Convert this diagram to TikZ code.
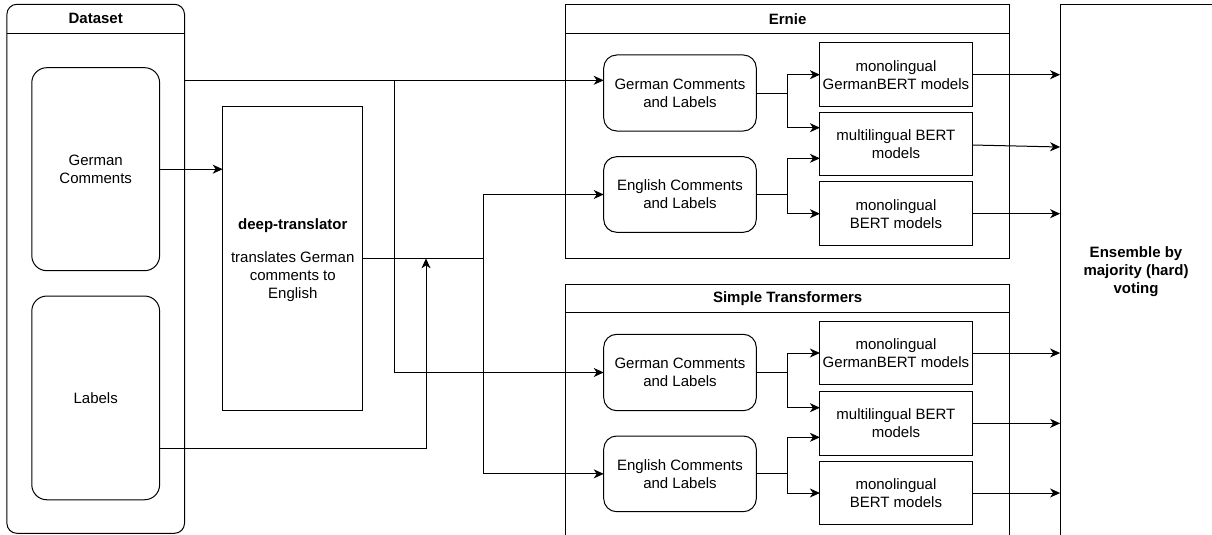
\documentclass[tikz,border=0pt]{standalone}
\usepackage{fontspec}
\setmainfont{Liberation Sans}
\usetikzlibrary{arrows.meta,calc}
\tikzset{
  every node/.style={inner sep=0pt,outer sep=0pt,font=\fontsize{15}{18}\selectfont},
  box/.style={draw,line width=1pt,align=center},
  rbox/.style={box,rounded corners=13pt},
  conn/.style={line width=1pt},
  arr/.style={line width=1pt,-{Stealth[length=10pt,width=9pt,inset=3pt]}},
  titletext/.style={font=\fontsize{15}{18}\selectfont\bfseries,align=center},
}
\begin{document}
\begin{tikzpicture}[x=1pt,y=-1pt]
\useasboundingbox (0,0) rectangle (1212,535);
\clip (0,0) rectangle (1212,535);

% Dataset container
\node[box,rounded corners=10pt,minimum width=177.6pt,minimum height=529pt] (dataset) at (95.7,268.8) {};
\draw[conn] (dataset.west |- 0,33.3) -- (dataset.east |- 0,33.3);
\node[titletext] (datasettitle) at (95.7,18.8) {Dataset};
\node[box,rounded corners=15pt,minimum width=127.8pt,minimum height=203pt] (gc) at (95.7,169.2) {German\\Comments};
\node[box,rounded corners=15pt,minimum width=127.8pt,minimum height=203.7pt] (labels) at (95.7,397.9) {Labels};

% deep-translator
\node[box,minimum width=140.1pt,minimum height=304.7pt] (dt) at (292.75,258.35) {};
\node[align=center] (dttext) at (292.75,259.7) {\textbf{deep-translator}\\[15pt]translates German\\comments to\\English};

% Ernie container
\node[box,minimum width=444.5pt,minimum height=254pt] (ernie) at (787.65,131.3) {};
\draw[conn] (ernie.west |- 0,33.3) -- (ernie.east |- 0,33.3);
\node[titletext] (ernietitle) at (787.65,18.8) {Ernie};

% Simple Transformers container
\node[box,minimum width=444.5pt,minimum height=270pt] (st) at (787.65,419) {};
\draw[conn] (st.west |- 0,312.7) -- (st.east |- 0,312.7);
\node[titletext] (sttitle) at (787.65,298.3) {Simple Transformers};

% Ensemble
\node[box,minimum width=153pt,minimum height=535.7pt] (ens) at (1136.6,272.15) {};
\node[titletext] (enstext) at (1136,271.8) {Ensemble by\\majority (hard)\\voting};

% Ernie inner
\node[rbox,minimum width=152.6pt,minimum height=76pt] (ernGC) at (680,93) {German Comments\\and Labels};
\node[rbox,minimum width=152.6pt,minimum height=75.6pt] (ernEN) at (680,194.5) {English Comments\\and Labels};
\node[box,minimum width=152.1pt,minimum height=64pt] (ernM1) at (895.95,74.7) {monolingual\\GermanBERT models};
\node[box,minimum width=152.1pt,minimum height=63.4pt] (ernM2) at (895.95,144) {multilingual BERT\\models};
\node[box,minimum width=152.1pt,minimum height=64pt] (ernM3) at (895.95,213.7) {monolingual\\BERT models};

% ST inner
\node[rbox,minimum width=152.6pt,minimum height=76.4pt] (stGC) at (680,372.5) {German Comments\\and Labels};
\node[rbox,minimum width=152.6pt,minimum height=75.7pt] (stEN) at (680,473.85) {English Comments\\and Labels};
\node[box,minimum width=152.1pt,minimum height=62.6pt] (stM1) at (895.95,353) {monolingual\\GermanBERT models};
\node[box,minimum width=152.1pt,minimum height=63.3pt] (stM2) at (895.95,423.35) {multilingual BERT\\models};
\node[box,minimum width=152.1pt,minimum height=62.6pt] (stM3) at (895.95,493) {monolingual\\BERT models};

% junction coordinates
\coordinate (j1) at (394.2,80.3);
\coordinate (j2) at (483,258.35);
\coordinate (j3) at (426,258.35);
\coordinate (b1) at (787.9,93);
\coordinate (b2) at (787.9,194.5);
\coordinate (b3) at (787.9,372.5);
\coordinate (b4) at (787.9,473.85);

% Dataset connectors
\draw[arr] (dataset.east |- j1) -- (ernGC.west |- j1);
\draw[arr] (j1) |- (stGC.west);
\draw[arr] (gc.east) -- (gc.east -| dt.west);
\draw[arr] (labels.east |- 0,448.3) -| (j3);
\draw[conn] (dt.east) -- (j2);
\draw[arr] (j2) |- (ernEN.west);
\draw[arr] (j2) |- (stEN.west);

% Ernie branches
\draw[conn] (ernGC.east) -- (b1);
\draw[arr] (b1) |- (ernM1.west);
\draw[arr] (b1) |- (ernM2.west |- 0,127.7);
\draw[conn] (ernEN.east) -- (b2);
\draw[arr] (b2) |- (ernM2.west |- 0,158.3);
\draw[arr] (b2) |- (ernM3.west);

% ST branches
\draw[conn] (stGC.east) -- (b3);
\draw[arr] (b3) |- (stM1.west);
\draw[arr] (b3) |- (stM2.west |- 0,407.7);
\draw[conn] (stEN.east) -- (b4);
\draw[arr] (b4) |- (stM2.west |- 0,437.3);
\draw[arr] (b4) |- (stM3.west);

% outputs to ensemble
\draw[arr] (ernM1.east) -- (ernM1.east -| ens.west);
\draw[arr] (ernM2.east |- 0,145) -- (ens.west |- 0,147);
\draw[arr] (ernM3.east) -- (ernM3.east -| ens.west);
\draw[arr] (stM1.east) -- (stM1.east -| ens.west);
\draw[arr] (stM2.east) -- (stM2.east -| ens.west);
\draw[arr] (stM3.east) -- (stM3.east -| ens.west);
\end{tikzpicture}
\end{document}
